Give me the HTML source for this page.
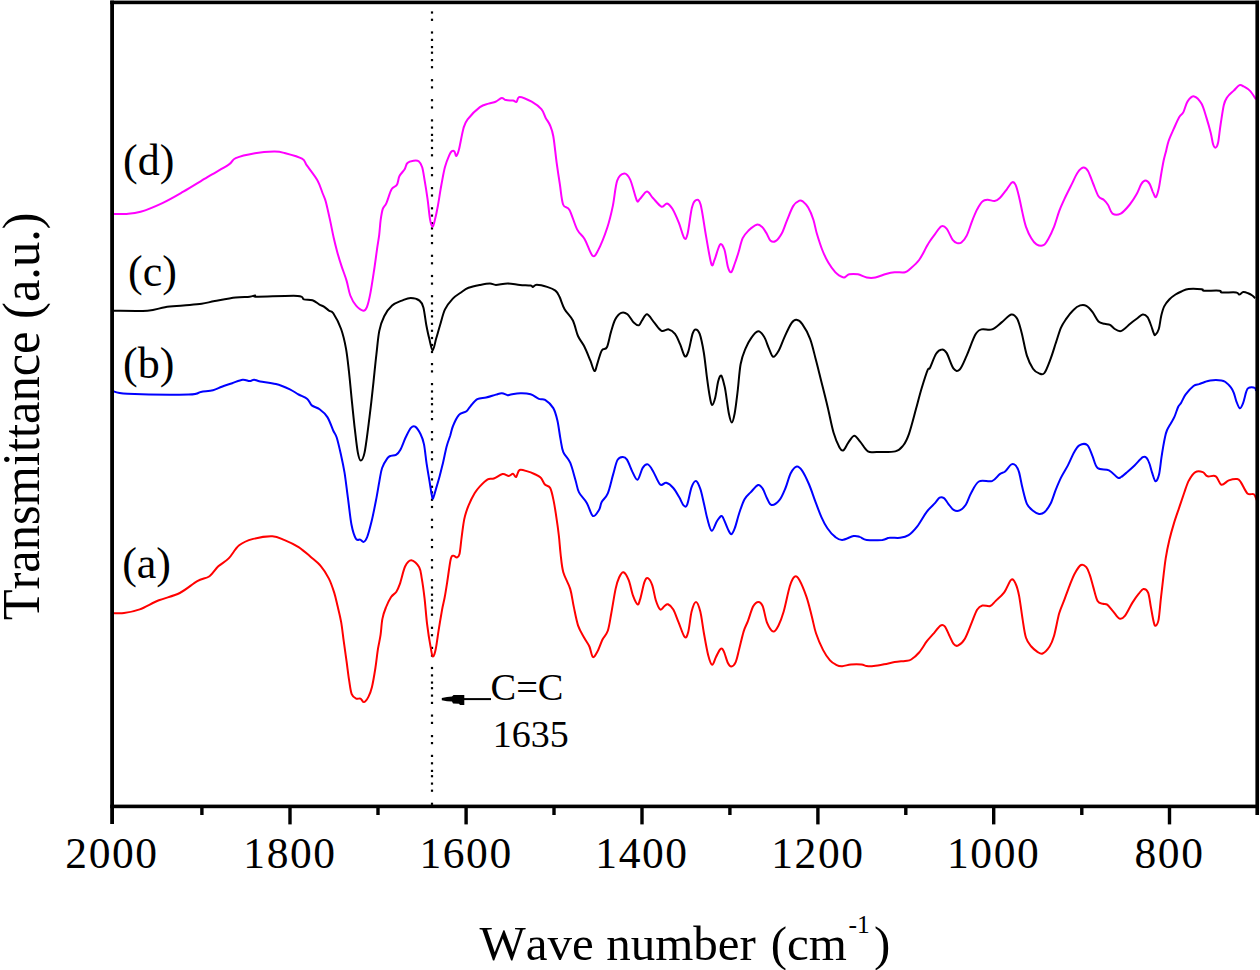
<!DOCTYPE html>
<html><head><meta charset="utf-8"><style>
html,body{margin:0;padding:0;background:#fff;}
body{width:1260px;height:970px;overflow:hidden;}
svg{display:block;}
text{font-family:'Liberation Serif',serif;fill:#000;font-kerning:none;}
</style></head><body>
<svg width="1260" height="970" viewBox="0 0 1260 970">
<rect width="1260" height="970" fill="#fff"/>
<g fill="#000"><rect x="430.9" y="11.4" width="2.2" height="2.2"/><rect x="430.9" y="18.7" width="2.2" height="2.2"/><rect x="430.9" y="31.4" width="2.2" height="2.2"/><rect x="430.9" y="38.8" width="2.2" height="2.2"/><rect x="430.9" y="46.0" width="2.2" height="2.2"/><rect x="430.9" y="51.6" width="2.2" height="2.2"/><rect x="430.9" y="59.0" width="2.2" height="2.2"/><rect x="430.9" y="66.1" width="2.2" height="2.2"/><rect x="430.9" y="79.1" width="2.2" height="2.2"/><rect x="430.9" y="86.3" width="2.2" height="2.2"/><rect x="430.9" y="99.1" width="2.2" height="2.2"/><rect x="430.9" y="106.4" width="2.2" height="2.2"/><rect x="430.9" y="119.3" width="2.2" height="2.2"/><rect x="430.9" y="126.5" width="2.2" height="2.2"/><rect x="430.9" y="133.8" width="2.2" height="2.2"/><rect x="430.9" y="139.4" width="2.2" height="2.2"/><rect x="430.9" y="146.9" width="2.2" height="2.2"/><rect x="430.9" y="154.2" width="2.2" height="2.2"/><rect x="430.9" y="166.9" width="2.2" height="2.2"/><rect x="430.9" y="174.1" width="2.2" height="2.2"/><rect x="430.9" y="187.0" width="2.2" height="2.2"/><rect x="430.9" y="194.4" width="2.2" height="2.2"/><rect x="430.9" y="207.2" width="2.2" height="2.2"/><rect x="430.9" y="214.5" width="2.2" height="2.2"/><rect x="430.9" y="222.1" width="2.2" height="2.2"/><rect x="430.9" y="227.3" width="2.2" height="2.2"/><rect x="430.9" y="234.6" width="2.2" height="2.2"/><rect x="430.9" y="242.0" width="2.2" height="2.2"/><rect x="430.9" y="254.7" width="2.2" height="2.2"/><rect x="430.9" y="262.2" width="2.2" height="2.2"/><rect x="430.9" y="274.9" width="2.2" height="2.2"/><rect x="430.9" y="282.5" width="2.2" height="2.2"/><rect x="430.9" y="295.1" width="2.2" height="2.2"/><rect x="430.9" y="302.3" width="2.2" height="2.2"/><rect x="430.9" y="309.9" width="2.2" height="2.2"/><rect x="430.9" y="315.3" width="2.2" height="2.2"/><rect x="430.9" y="322.7" width="2.2" height="2.2"/><rect x="430.9" y="329.7" width="2.2" height="2.2"/><rect x="430.9" y="336.9" width="2.2" height="2.2"/><rect x="430.9" y="343.9" width="2.2" height="2.2"/><rect x="430.9" y="350.9" width="2.2" height="2.2"/><rect x="430.9" y="363.0" width="2.2" height="2.2"/><rect x="430.9" y="370.3" width="2.2" height="2.2"/><rect x="430.9" y="383.0" width="2.2" height="2.2"/><rect x="430.9" y="390.4" width="2.2" height="2.2"/><rect x="430.9" y="397.6" width="2.2" height="2.2"/><rect x="430.9" y="403.1" width="2.2" height="2.2"/><rect x="430.9" y="410.5" width="2.2" height="2.2"/><rect x="430.9" y="418.0" width="2.2" height="2.2"/><rect x="430.9" y="431.0" width="2.2" height="2.2"/><rect x="430.9" y="438.3" width="2.2" height="2.2"/><rect x="430.9" y="451.1" width="2.2" height="2.2"/><rect x="430.9" y="458.2" width="2.2" height="2.2"/><rect x="430.9" y="470.9" width="2.2" height="2.2"/><rect x="430.9" y="478.3" width="2.2" height="2.2"/><rect x="430.9" y="485.7" width="2.2" height="2.2"/><rect x="430.9" y="491.3" width="2.2" height="2.2"/><rect x="430.9" y="498.7" width="2.2" height="2.2"/><rect x="430.9" y="505.9" width="2.2" height="2.2"/><rect x="430.9" y="518.7" width="2.2" height="2.2"/><rect x="430.9" y="526.1" width="2.2" height="2.2"/><rect x="430.9" y="538.8" width="2.2" height="2.2"/><rect x="430.9" y="546.0" width="2.2" height="2.2"/><rect x="430.9" y="559.0" width="2.2" height="2.2"/><rect x="430.9" y="566.4" width="2.2" height="2.2"/><rect x="430.9" y="579.1" width="2.2" height="2.2"/><rect x="430.9" y="586.4" width="2.2" height="2.2"/><rect x="430.9" y="593.6" width="2.2" height="2.2"/><rect x="430.9" y="599.4" width="2.2" height="2.2"/><rect x="430.9" y="606.5" width="2.2" height="2.2"/><rect x="430.9" y="613.6" width="2.2" height="2.2"/><rect x="430.9" y="626.7" width="2.2" height="2.2"/><rect x="430.9" y="634.1" width="2.2" height="2.2"/><rect x="430.9" y="646.8" width="2.2" height="2.2"/><rect x="430.9" y="654.5" width="2.2" height="2.2"/><rect x="430.9" y="666.9" width="2.2" height="2.2"/><rect x="430.9" y="674.3" width="2.2" height="2.2"/><rect x="430.9" y="681.5" width="2.2" height="2.2"/><rect x="430.9" y="687.1" width="2.2" height="2.2"/><rect x="430.9" y="694.5" width="2.2" height="2.2"/><rect x="430.9" y="701.8" width="2.2" height="2.2"/><rect x="430.9" y="714.5" width="2.2" height="2.2"/><rect x="430.9" y="721.8" width="2.2" height="2.2"/><rect x="430.9" y="735.0" width="2.2" height="2.2"/><rect x="430.9" y="742.0" width="2.2" height="2.2"/><rect x="430.9" y="754.8" width="2.2" height="2.2"/><rect x="430.9" y="762.2" width="2.2" height="2.2"/><rect x="430.9" y="769.8" width="2.2" height="2.2"/><rect x="430.9" y="775.1" width="2.2" height="2.2"/><rect x="430.9" y="782.5" width="2.2" height="2.2"/><rect x="430.9" y="789.6" width="2.2" height="2.2"/><rect x="430.9" y="802.7" width="2.2" height="2.2"/></g>
<path d="M112.6,213.9 C114.9,213.9 121.9,214.2 126.6,213.9 C131.3,213.6 134.6,213.6 140.6,211.8 C146.6,210.0 155.3,206.4 162.4,203.1 C169.5,199.8 175.7,196.1 183.3,191.7 C190.9,187.3 200.2,181.4 207.8,176.9 C215.4,172.4 224.0,167.8 228.7,164.7 C233.3,161.6 231.3,160.1 235.7,158.2 C240.1,156.3 248.5,154.4 254.9,153.3 C261.3,152.2 269.2,151.7 274.1,151.6 C279.1,151.5 280.0,151.8 284.6,153.0 C289.2,154.2 298.3,156.5 302.0,158.6 C305.7,160.7 304.4,162.0 307.0,165.6 C309.6,169.2 314.9,175.8 317.5,180.4 C320.1,185.1 321.3,189.9 322.7,193.5 C324.1,197.1 324.6,197.2 325.8,201.7 C327.0,206.2 328.8,214.4 330.1,220.4 C331.4,226.4 332.5,232.5 333.7,237.8 C334.9,243.1 336.0,247.4 337.3,252.2 C338.6,257.0 340.1,261.8 341.7,266.6 C343.3,271.4 345.3,276.3 346.7,281.1 C348.1,285.9 348.7,291.4 350.3,295.5 C351.9,299.6 353.9,303.1 356.1,305.6 C358.3,308.1 361.5,310.4 363.3,310.7 C365.1,310.9 365.7,310.1 366.9,307.1 C368.1,304.1 369.3,298.9 370.5,292.6 C371.7,286.3 373.1,276.7 374.2,269.5 C375.3,262.3 376.2,255.1 377.0,249.3 C377.8,243.5 378.6,239.7 379.2,234.9 C379.8,230.1 380.0,224.7 380.6,220.4 C381.2,216.1 381.8,211.8 382.8,208.9 C383.8,206.0 384.9,206.4 386.4,203.1 C387.9,199.8 389.9,192.1 391.7,189.1 C393.4,186.1 395.6,187.0 396.9,184.8 C398.2,182.6 398.2,178.6 399.5,176.0 C400.8,173.4 403.5,171.2 404.8,169.0 C406.1,166.8 405.9,164.4 407.4,163.0 C408.8,161.6 411.6,161.0 413.5,160.7 C415.4,160.4 417.2,160.1 418.7,161.2 C420.1,162.3 421.2,164.0 422.2,167.3 C423.2,170.7 423.9,176.1 424.8,181.3 C425.7,186.5 426.6,192.3 427.5,198.7 C428.4,205.1 429.3,215.1 430.1,219.7 C430.9,224.3 431.7,226.2 432.4,226.5 C433.1,226.8 433.6,224.9 434.5,221.4 C435.4,217.9 436.8,211.8 437.9,205.7 C439.0,199.6 440.2,191.2 441.4,184.8 C442.6,178.4 443.6,172.2 444.9,167.3 C446.2,162.4 448.1,157.8 449.3,155.1 C450.5,152.4 451.0,151.8 451.9,151.2 C452.8,150.6 453.8,150.8 454.5,151.6 C455.2,152.4 455.6,156.3 456.3,156.0 C457.0,155.7 457.7,154.3 458.9,149.8 C460.1,145.3 461.9,134.0 463.3,128.9 C464.8,123.8 464.8,122.9 467.6,119.3 C470.4,115.7 476.4,109.7 479.9,107.1 C483.4,104.5 486.0,104.5 488.6,103.6 C491.2,102.7 493.4,102.7 495.6,101.8 C497.8,100.9 500.0,98.3 501.7,98.0 C503.4,97.7 504.1,99.7 506.0,100.1 C507.9,100.5 511.2,100.3 513.0,100.6 C514.8,100.9 515.4,102.4 516.5,101.8 C517.6,101.2 517.2,96.9 519.7,96.9 C522.2,96.9 528.1,99.7 531.7,101.7 C535.3,103.8 539.1,106.5 541.4,109.2 C543.7,111.9 544.2,115.2 545.7,117.9 C547.2,120.6 548.8,122.4 550.1,125.5 C551.4,128.6 552.2,130.2 553.3,136.3 C554.4,142.4 555.5,154.4 556.6,162.3 C557.7,170.2 558.7,176.9 559.8,183.9 C560.9,190.9 561.5,200.2 563.1,204.5 C564.7,208.8 567.2,205.8 569.5,209.9 C571.8,214.1 574.6,224.5 577.1,229.4 C579.6,234.3 582.2,234.9 584.7,239.2 C587.2,243.5 590.1,253.4 592.3,255.4 C594.5,257.4 595.2,255.8 597.7,251.1 C600.2,246.4 604.9,234.8 607.4,227.2 C609.9,219.6 611.3,213.3 612.9,205.6 C614.5,197.8 615.3,186.0 617.2,180.7 C619.1,175.3 622.1,173.7 624.3,173.5 C626.5,173.3 628.1,175.2 630.2,179.6 C632.3,184.0 635.1,196.9 636.7,200.2 C638.3,203.4 638.2,200.5 639.9,199.1 C641.6,197.7 644.7,191.7 646.9,191.5 C649.1,191.3 650.4,195.5 652.9,198.0 C655.4,200.5 659.2,205.8 661.6,206.7 C664.0,207.6 665.2,203.1 667.0,203.4 C668.8,203.8 670.4,205.6 672.4,208.8 C674.4,212.1 676.9,218.0 678.9,222.9 C680.9,227.8 682.8,236.3 684.3,238.1 C685.8,239.9 686.3,238.8 687.6,233.7 C688.9,228.6 690.5,213.4 691.9,207.8 C693.3,202.2 694.3,200.8 695.8,200.2 C697.2,199.6 698.9,198.6 700.6,204.5 C702.3,210.4 704.2,226.0 706.0,235.9 C707.8,245.8 710.0,260.1 711.4,264.1 C712.8,268.1 713.2,262.9 714.6,259.7 C716.0,256.4 718.4,246.3 720.0,244.6 C721.6,242.9 723.1,245.8 724.4,249.5 C725.7,253.2 726.8,263.2 727.9,267.0 C729.0,270.8 730.1,272.8 731.3,272.2 C732.4,271.6 733.6,266.7 734.8,263.5 C736.0,260.3 737.0,257.2 738.3,253.0 C739.6,248.8 741.0,242.0 742.7,238.2 C744.5,234.4 746.5,232.6 748.8,230.3 C751.1,228.1 754.5,225.3 756.7,224.7 C758.9,224.1 760.3,225.4 761.9,226.8 C763.5,228.2 764.8,230.6 766.3,232.9 C767.8,235.2 769.0,239.5 770.6,240.8 C772.2,242.1 774.0,242.1 775.9,240.8 C777.8,239.5 780.1,236.4 782.0,232.9 C783.9,229.4 785.3,224.3 787.2,219.8 C789.1,215.3 791.3,209.1 793.3,205.9 C795.3,202.7 797.8,201.3 799.4,200.6 C801.0,199.9 801.4,200.3 802.9,201.5 C804.4,202.7 806.5,204.5 808.2,207.6 C810.0,210.7 812.0,215.4 813.4,219.8 C814.8,224.2 815.4,228.9 816.9,233.8 C818.4,238.8 820.2,244.7 822.1,249.5 C824.0,254.3 826.1,258.8 828.3,262.6 C830.5,266.4 833.3,270.0 835.2,272.2 C837.1,274.4 838.1,274.8 839.6,275.7 C841.1,276.6 842.4,277.7 844.0,277.5 C845.6,277.3 846.9,274.8 849.2,274.3 C851.5,273.8 855.0,273.8 857.9,274.3 C860.8,274.8 863.8,277.0 866.7,277.5 C869.6,278.0 872.2,278.1 875.4,277.5 C878.6,276.9 882.7,274.9 885.9,274.0 C889.1,273.1 891.4,272.5 894.6,272.2 C897.8,271.9 902.5,272.8 905.1,272.2 C907.7,271.6 908.0,270.7 910.3,268.7 C912.6,266.7 916.5,263.5 919.1,260.0 C921.7,256.5 924.3,250.9 926.0,247.8 C927.7,244.8 928.0,244.0 929.5,241.7 C931.0,239.4 933.2,236.4 935.2,233.8 C937.2,231.2 939.4,227.2 941.3,226.3 C943.2,225.4 944.7,226.3 946.6,228.6 C948.5,230.9 951.0,237.5 952.7,239.9 C954.5,242.3 955.7,242.7 957.1,243.1 C958.5,243.5 959.8,243.8 961.4,242.5 C963.0,241.2 965.0,239.1 966.7,235.6 C968.5,232.1 970.2,226.0 971.9,221.6 C973.6,217.2 975.4,212.8 977.1,209.4 C978.9,206.1 980.6,203.1 982.4,201.5 C984.1,199.9 985.6,199.9 987.6,199.8 C989.6,199.7 992.6,201.3 994.6,201.0 C996.6,200.7 997.8,199.9 999.8,198.0 C1001.8,196.1 1004.8,191.9 1006.8,189.3 C1008.8,186.7 1010.6,183.0 1012.1,182.3 C1013.6,181.6 1014.4,182.4 1015.6,184.9 C1016.8,187.4 1018.0,192.4 1019.1,197.1 C1020.2,201.8 1021.4,207.9 1022.5,212.9 C1023.6,217.9 1024.5,222.6 1026.0,226.8 C1027.5,231.0 1029.5,235.3 1031.3,238.2 C1033.0,241.1 1034.5,243.1 1036.5,244.3 C1038.5,245.5 1041.5,246.2 1043.5,245.2 C1045.5,244.2 1047.0,241.3 1048.7,238.2 C1050.5,235.1 1052.2,231.3 1054.0,226.8 C1055.8,222.3 1057.5,215.8 1059.2,211.1 C1061.0,206.4 1062.5,203.3 1064.5,198.9 C1066.5,194.5 1069.2,189.3 1071.4,184.9 C1073.6,180.5 1075.5,175.6 1077.5,172.7 C1079.5,169.8 1081.5,167.8 1083.3,167.5 C1085.0,167.2 1086.3,168.2 1088.0,171.0 C1089.7,173.8 1091.5,179.8 1093.3,184.0 C1095.0,188.2 1096.8,193.7 1098.5,196.3 C1100.2,198.9 1102.1,198.4 1103.7,199.8 C1105.3,201.2 1106.6,202.7 1108.1,205.0 C1109.6,207.3 1110.4,212.2 1112.5,213.6 C1114.6,215.0 1117.8,215.1 1120.7,213.6 C1123.6,212.1 1127.2,207.7 1129.8,204.5 C1132.4,201.3 1134.5,198.0 1136.4,194.6 C1138.3,191.2 1139.9,186.2 1141.4,183.9 C1142.9,181.6 1144.1,180.6 1145.5,180.6 C1146.9,180.6 1148.4,182.0 1149.6,183.9 C1150.8,185.8 1151.9,189.9 1152.9,192.1 C1154.0,194.3 1154.9,197.6 1155.9,197.1 C1156.9,196.6 1157.8,192.7 1158.7,188.8 C1159.6,185.0 1160.4,178.7 1161.2,174.0 C1162.0,169.3 1162.8,164.7 1163.6,160.8 C1164.4,157.0 1165.3,154.2 1166.1,150.9 C1166.9,147.6 1167.4,144.6 1168.6,141.0 C1169.8,137.4 1171.7,133.4 1173.5,129.4 C1175.3,125.4 1177.6,119.9 1179.3,117.0 C1181.0,114.1 1182.0,114.7 1183.4,112.1 C1184.8,109.5 1185.8,104.0 1187.6,101.4 C1189.4,98.8 1191.9,96.0 1194.2,96.4 C1196.5,96.8 1199.5,100.2 1201.6,103.8 C1203.6,107.4 1205.0,113.1 1206.5,117.9 C1208.0,122.7 1209.6,128.3 1210.7,132.7 C1211.8,137.1 1212.3,141.8 1213.1,144.3 C1213.9,146.8 1214.8,147.9 1215.6,147.6 C1216.4,147.3 1217.3,146.4 1218.1,142.6 C1218.9,138.8 1219.6,130.8 1220.6,124.5 C1221.6,118.2 1222.8,109.2 1223.9,104.7 C1225.0,100.2 1225.6,99.6 1227.2,97.2 C1228.8,94.8 1231.8,92.6 1233.8,90.6 C1235.8,88.6 1237.8,85.9 1239.5,85.2 C1241.2,84.5 1241.9,85.5 1243.7,86.5 C1245.5,87.5 1248.2,88.9 1250.3,91.1 C1252.3,93.2 1255.0,98.0 1256.0,99.4" fill="none" stroke="#ff00ff" stroke-width="2" stroke-linejoin="round"/>
<path d="M113.5,310.7 C119.2,310.7 138.9,311.3 147.5,310.7 C156.1,310.1 159.0,308.1 165.0,307.2 C171.0,306.3 177.2,306.1 183.3,305.5 C189.4,304.9 196.4,304.4 201.7,303.7 C206.9,303.0 209.1,302.1 214.8,301.1 C220.5,300.1 229.9,298.3 235.7,297.6 C241.5,296.9 246.5,297.1 249.7,296.7 C252.9,296.3 253.6,295.5 254.9,295.5 C256.2,295.5 250.4,296.6 257.5,296.7 C264.6,296.8 290.0,295.4 297.7,295.9 C305.4,296.3 301.3,298.7 303.8,299.4 C306.3,300.1 309.9,299.3 312.5,300.2 C315.1,301.1 317.7,303.6 319.5,304.6 C321.3,305.6 321.9,305.4 323.5,306.4 C325.1,307.4 327.5,309.5 329.1,310.7 C330.7,311.9 331.3,310.2 333.3,313.3 C335.3,316.4 339.0,323.1 341.1,329.0 C343.2,334.9 344.7,341.4 346.0,348.6 C347.3,355.8 348.0,363.2 349.0,372.0 C350.0,380.8 350.9,391.9 351.9,401.4 C352.9,410.9 353.8,420.4 354.8,428.9 C355.8,437.4 356.8,447.1 357.8,452.4 C358.8,457.7 359.6,460.6 360.7,460.6 C361.8,460.6 363.1,459.6 364.6,452.4 C366.1,445.1 368.0,428.9 369.5,417.1 C371.0,405.4 372.4,392.3 373.5,381.9 C374.6,371.4 375.4,362.9 376.4,354.4 C377.4,345.9 378.0,337.3 379.3,330.9 C380.6,324.5 382.1,320.4 384.2,316.2 C386.3,312.0 389.2,308.1 392.1,305.5 C395.1,302.9 398.8,301.9 401.9,300.6 C405.0,299.4 407.8,298.0 410.7,298.0 C413.6,298.0 417.4,299.0 419.5,300.6 C421.6,302.2 422.3,303.3 423.4,307.4 C424.5,311.5 425.3,319.8 426.3,325.0 C427.3,330.2 428.2,334.6 429.3,338.8 C430.4,343.1 431.5,350.5 432.6,350.5 C433.7,350.5 434.9,343.1 436.1,338.8 C437.4,334.6 438.6,329.9 440.1,325.0 C441.6,320.1 442.9,313.8 445.0,309.4 C447.1,305.0 450.2,301.4 452.8,298.6 C455.4,295.8 458.0,294.5 460.6,292.7 C463.2,290.9 465.2,289.1 468.5,287.8 C471.8,286.5 476.6,285.6 480.2,284.9 C483.8,284.2 487.4,283.5 490.0,283.5 C492.6,283.5 493.0,284.9 495.9,284.9 C498.8,284.9 503.6,283.5 507.6,283.5 C511.6,283.5 516.2,284.6 520.0,284.9 C523.8,285.2 528.5,285.2 530.6,285.5 C532.7,285.8 531.7,287.0 532.7,286.9 C533.7,286.8 534.4,284.8 536.8,284.8 C539.2,284.8 544.0,285.9 547.1,286.9 C550.2,287.9 553.3,289.0 555.4,290.6 C557.5,292.2 558.0,293.7 559.5,296.8 C561.0,299.9 562.4,305.2 564.6,309.2 C566.8,313.1 570.7,316.0 572.9,320.5 C575.1,325.0 576.1,331.7 578.0,336.0 C579.9,340.3 582.1,342.2 584.2,346.3 C586.3,350.4 588.7,356.6 590.4,360.7 C592.1,364.8 593.3,370.6 594.5,371.0 C595.7,371.4 596.4,366.2 597.6,362.8 C598.8,359.4 600.2,353.0 601.8,350.4 C603.3,347.8 605.4,350.4 606.9,347.3 C608.4,344.2 609.6,336.5 611.0,331.9 C612.4,327.3 613.5,322.7 615.2,319.5 C616.9,316.3 619.2,313.8 621.3,312.9 C623.3,312.0 625.4,312.7 627.5,314.3 C629.6,315.9 631.8,320.8 633.7,322.6 C635.6,324.4 637.5,325.7 638.9,325.3 C640.3,324.9 640.6,322.3 642.0,320.5 C643.4,318.7 645.1,313.9 647.1,314.3 C649.1,314.7 651.9,319.9 654.3,322.6 C656.7,325.4 659.1,329.7 661.5,330.8 C663.9,331.9 666.5,328.9 668.8,329.4 C671.0,329.9 673.1,331.4 675.0,333.9 C676.9,336.4 678.5,340.5 680.1,344.2 C681.7,347.9 683.4,355.0 684.8,356.2 C686.2,357.4 687.1,355.1 688.4,351.4 C689.7,347.7 691.3,337.6 692.5,333.9 C693.7,330.2 694.4,329.4 695.6,329.4 C696.8,329.4 698.3,330.0 699.7,333.9 C701.1,337.8 702.6,345.3 703.8,352.5 C705.0,359.7 705.9,369.6 706.9,377.2 C707.9,384.8 709.1,393.2 710.0,397.8 C710.9,402.4 711.2,405.0 712.1,405.0 C713.0,405.0 714.2,401.8 715.2,397.8 C716.2,393.9 717.2,385.0 718.2,381.3 C719.2,377.6 720.3,374.9 721.3,375.6 C722.3,376.3 723.6,382.5 724.4,385.5 C725.2,388.5 725.2,389.0 725.9,393.6 C726.6,398.2 727.8,408.4 728.8,413.2 C729.8,418.0 730.8,422.6 731.8,422.6 C732.8,422.6 733.7,418.4 734.7,413.2 C735.7,408.0 736.6,399.9 737.6,391.7 C738.6,383.5 739.3,371.4 740.6,364.2 C741.9,357.0 743.7,353.0 745.5,348.6 C747.3,344.2 749.2,340.7 751.3,337.8 C753.4,334.9 756.1,331.5 758.2,331.3 C760.3,331.1 762.3,333.9 764.1,336.8 C765.9,339.7 767.5,345.3 769.0,348.6 C770.5,351.9 771.7,356.5 773.3,356.8 C774.9,357.1 776.9,353.8 778.8,350.5 C780.7,347.2 782.5,341.4 784.6,336.8 C786.7,332.2 789.5,325.9 791.5,323.1 C793.5,320.3 794.6,319.6 796.4,319.8 C798.2,320.0 800.0,320.9 802.3,324.1 C804.6,327.3 807.8,332.8 810.1,338.8 C812.4,344.8 814.0,352.8 816.0,360.3 C818.0,367.8 819.9,376.0 821.9,383.8 C823.9,391.6 825.8,399.1 827.7,407.3 C829.7,415.5 831.6,426.1 833.6,432.8 C835.6,439.5 837.9,444.6 839.5,447.5 C841.1,450.4 841.9,451.2 843.4,450.4 C844.9,449.6 846.5,445.1 848.3,442.6 C850.1,440.2 852.2,435.9 854.2,435.7 C856.2,435.5 857.8,439.0 860.1,441.6 C862.4,444.2 865.1,449.7 867.9,451.4 C870.7,453.1 872.1,452.0 876.7,452.0 C881.3,452.0 890.9,452.5 895.3,451.4 C899.7,450.3 900.9,448.4 903.2,445.5 C905.5,442.6 906.9,439.8 909.0,433.8 C911.1,427.8 913.8,417.0 915.9,409.3 C918.0,401.6 919.8,394.2 921.8,387.7 C923.8,381.2 926.2,373.4 927.6,370.1 C929.0,366.8 928.6,370.5 930.0,367.8 C931.4,365.1 934.1,356.9 936.1,353.8 C938.1,350.7 940.1,349.5 941.9,349.4 C943.6,349.2 944.6,349.7 946.6,352.9 C948.6,356.1 951.4,365.9 953.6,368.7 C955.8,371.5 957.5,371.7 959.7,369.5 C961.9,367.3 964.1,361.4 966.7,355.6 C969.3,349.8 972.9,339.0 975.4,334.6 C977.9,330.2 978.7,330.3 981.5,329.4 C984.3,328.5 988.6,330.6 992.0,329.4 C995.4,328.2 998.4,324.9 1001.6,322.4 C1004.8,319.9 1008.6,315.1 1011.2,314.5 C1013.8,313.9 1015.5,315.8 1017.3,318.9 C1019.0,322.0 1020.1,326.8 1021.7,332.9 C1023.3,339.0 1025.0,349.6 1026.9,355.6 C1028.8,361.6 1031.0,365.7 1033.0,368.7 C1035.0,371.7 1037.2,372.7 1039.1,373.4 C1041.0,374.1 1042.5,375.4 1044.4,373.0 C1046.3,370.6 1048.6,364.1 1050.5,359.1 C1052.4,354.2 1054.0,348.6 1055.7,343.3 C1057.5,338.1 1059.2,331.7 1061.0,327.6 C1062.8,323.5 1064.2,321.8 1066.2,318.9 C1068.2,316.0 1070.9,312.4 1073.2,310.2 C1075.5,307.9 1078.0,306.1 1080.2,305.4 C1082.4,304.7 1084.3,304.7 1086.3,305.8 C1088.3,306.9 1090.4,309.3 1092.4,311.9 C1094.4,314.5 1096.5,319.5 1098.5,321.5 C1100.5,323.5 1102.7,323.2 1104.6,323.8 C1106.5,324.4 1108.3,324.0 1110.0,324.9 C1111.7,325.8 1113.1,327.9 1114.8,329.0 C1116.5,330.1 1118.5,331.2 1120.1,331.2 C1121.7,331.2 1122.6,330.2 1124.3,329.0 C1126.0,327.8 1128.0,325.5 1130.2,323.7 C1132.4,321.9 1135.3,319.8 1137.4,318.3 C1139.5,316.8 1141.0,314.7 1142.7,314.5 C1144.4,314.3 1146.1,315.3 1147.5,317.1 C1148.9,318.9 1150.1,322.9 1151.1,325.5 C1152.1,328.1 1152.8,331.0 1153.5,332.6 C1154.2,334.2 1154.3,335.6 1155.2,335.0 C1156.1,334.4 1157.8,332.2 1158.8,329.0 C1159.8,325.8 1160.3,319.8 1161.2,316.0 C1162.1,312.2 1162.8,309.2 1164.2,306.4 C1165.6,303.6 1167.6,301.3 1169.5,299.3 C1171.4,297.3 1173.5,295.8 1175.5,294.5 C1177.5,293.2 1179.2,292.4 1181.4,291.5 C1183.6,290.6 1185.2,289.3 1188.6,288.9 C1192.0,288.5 1199.1,288.9 1201.7,289.2 C1204.3,289.5 1201.0,290.4 1204.0,290.7 C1207.0,290.9 1216.5,290.4 1219.5,290.7 C1222.5,291.0 1219.1,292.1 1221.9,292.4 C1224.7,292.7 1233.3,292.0 1236.2,292.4 C1239.1,292.8 1238.0,294.6 1239.2,294.5 C1240.4,294.4 1241.8,292.3 1243.3,292.1 C1244.8,291.9 1246.6,292.7 1248.1,293.3 C1249.6,293.9 1251.1,294.7 1252.3,295.5 C1253.5,296.3 1254.7,297.7 1255.2,298.1" fill="none" stroke="#000000" stroke-width="2" stroke-linejoin="round"/>
<path d="M112.6,391.0 C115.1,391.4 114.8,393.1 127.5,393.7 C140.2,394.3 176.4,394.8 188.6,394.5 C200.8,394.2 196.7,392.6 200.8,391.9 C204.9,391.2 209.5,391.1 213.0,390.2 C216.5,389.3 218.6,387.9 221.8,386.7 C225.0,385.5 228.7,384.4 232.2,383.2 C235.7,382.0 239.8,380.0 242.7,379.7 C245.6,379.4 247.8,381.1 249.7,381.1 C251.6,381.1 252.3,379.6 254.1,379.7 C255.8,379.8 256.6,380.7 260.2,381.4 C263.8,382.1 270.9,382.7 275.9,384.0 C280.8,385.3 286.1,387.6 289.9,389.3 C293.7,391.1 295.7,392.9 298.6,394.5 C301.5,396.1 305.1,397.1 307.3,398.9 C309.5,400.7 309.8,403.7 311.8,405.4 C313.9,407.1 317.0,407.4 319.6,409.3 C322.2,411.2 325.1,413.5 327.4,417.1 C329.7,420.7 331.8,427.4 333.3,430.8 C334.9,434.2 335.4,433.5 336.7,437.5 C338.0,441.5 339.7,449.1 341.0,454.9 C342.3,460.7 343.3,465.1 344.5,472.4 C345.7,479.7 346.8,489.9 348.0,498.6 C349.2,507.3 350.2,518.1 351.5,524.8 C352.8,531.5 354.4,536.2 355.9,538.7 C357.3,541.2 358.9,539.1 360.2,539.6 C361.5,540.1 362.5,542.3 363.7,541.9 C364.9,541.5 365.9,540.4 367.2,537.0 C368.5,533.6 370.1,527.4 371.6,521.3 C373.1,515.2 374.7,507.0 376.0,500.3 C377.3,493.6 378.4,486.5 379.4,481.1 C380.4,475.7 380.8,471.8 382.1,468.0 C383.4,464.2 385.9,460.4 387.3,458.4 C388.8,456.4 389.4,456.4 390.8,455.8 C392.2,455.2 394.4,455.9 396.0,454.9 C397.6,453.9 398.8,452.6 400.4,449.7 C402.0,446.8 403.9,441.1 405.6,437.5 C407.4,433.9 409.3,429.7 410.9,427.9 C412.5,426.1 413.6,425.6 415.2,426.6 C416.8,427.6 419.0,431.0 420.5,434.0 C422.0,437.0 423.0,439.4 424.0,444.4 C425.0,449.3 425.7,457.9 426.6,463.7 C427.5,469.5 428.3,474.2 429.2,479.4 C430.1,484.6 431.1,492.0 431.8,495.1 C432.5,498.2 432.4,499.4 433.1,498.2 C433.8,497.0 435.1,491.8 436.2,488.1 C437.3,484.4 438.5,480.3 439.7,475.9 C440.9,471.5 442.0,466.8 443.2,461.9 C444.4,456.9 445.5,450.6 446.7,446.2 C447.9,441.8 449.1,439.1 450.2,435.7 C451.2,432.3 451.6,429.4 453.0,426.0 C454.4,422.6 456.4,417.7 458.7,415.2 C460.9,412.7 464.6,412.7 466.5,411.2 C468.4,409.7 468.6,408.3 470.4,406.3 C472.2,404.3 474.7,400.6 477.3,399.1 C479.9,397.6 483.0,398.2 486.1,397.5 C489.2,396.8 493.3,395.3 495.9,394.6 C498.5,393.9 499.9,393.1 501.8,393.2 C503.8,393.3 506.2,394.9 507.6,395.2 C509.0,395.4 507.9,395.0 510.0,394.7 C512.1,394.4 516.9,393.4 520.3,393.3 C523.7,393.2 527.5,393.4 530.6,394.3 C533.7,395.2 536.5,398.0 538.9,398.9 C541.3,399.8 542.7,398.4 545.1,399.9 C547.5,401.4 551.2,404.7 553.3,408.1 C555.3,411.5 556.2,415.3 557.4,420.5 C558.6,425.7 559.5,433.8 560.5,439.1 C561.5,444.4 561.7,448.3 563.3,452.2 C564.9,456.1 568.2,458.0 570.2,462.7 C572.2,467.4 574.0,475.2 575.5,480.2 C577.0,485.1 577.1,488.6 579.0,492.4 C580.9,496.2 584.5,499.0 586.8,502.9 C589.1,506.8 590.8,514.9 592.9,516.0 C595.0,517.1 597.6,512.1 599.1,509.8 C600.6,507.5 600.2,504.8 601.7,502.0 C603.2,499.2 605.9,497.8 607.8,493.3 C609.7,488.8 611.4,480.4 613.0,474.9 C614.6,469.4 615.8,463.1 617.4,460.1 C619.0,457.1 621.0,457.0 622.6,456.9 C624.2,456.8 625.4,457.2 627.0,459.6 C628.6,462.0 630.5,468.0 632.2,471.4 C634.0,474.8 635.8,480.4 637.5,479.8 C639.2,479.2 641.0,470.5 642.7,467.9 C644.4,465.3 646.1,463.8 647.9,464.4 C649.6,465.0 651.2,468.0 653.2,471.4 C655.2,474.8 658.0,482.6 660.2,484.5 C662.4,486.4 664.1,482.2 666.3,482.8 C668.5,483.4 671.1,485.5 673.3,488.0 C675.5,490.5 677.7,494.7 679.4,497.6 C681.1,500.5 682.4,504.3 683.7,505.5 C685.0,506.7 685.9,507.7 687.2,504.6 C688.5,501.5 690.1,491.0 691.6,487.1 C693.1,483.2 694.5,480.7 696.0,481.0 C697.5,481.3 699.0,485.2 700.3,488.9 C701.6,492.5 702.6,497.9 703.8,502.9 C705.0,507.8 706.0,514.0 707.3,518.6 C708.6,523.2 710.1,530.4 711.7,530.8 C713.3,531.2 715.3,523.7 716.9,521.2 C718.5,518.7 720.2,516.4 721.3,516.0 C722.4,515.6 722.4,516.4 723.5,518.6 C724.6,520.8 726.6,526.5 727.9,529.1 C729.2,531.7 730.1,534.4 731.3,534.3 C732.4,534.1 733.5,531.7 734.8,528.2 C736.1,524.7 737.6,518.1 739.2,513.3 C740.8,508.5 742.5,502.9 744.4,499.4 C746.3,495.9 748.3,494.8 750.6,492.4 C752.9,490.0 756.1,485.6 758.1,485.0 C760.1,484.4 761.3,486.6 762.8,488.9 C764.3,491.1 765.6,495.8 767.1,498.5 C768.6,501.2 769.5,504.7 771.5,505.0 C773.5,505.3 777.1,503.0 779.4,500.2 C781.7,497.4 783.6,492.5 785.5,488.0 C787.4,483.5 788.8,476.8 790.7,473.2 C792.6,469.6 794.9,466.9 796.8,466.5 C798.7,466.1 800.0,467.6 802.1,470.6 C804.2,473.6 806.9,479.4 809.1,484.5 C811.3,489.6 813.2,495.7 815.2,501.1 C817.2,506.5 819.3,512.3 821.3,516.8 C823.3,521.3 825.1,524.9 827.4,528.2 C829.7,531.6 832.7,535.0 835.2,536.9 C837.7,538.8 839.1,540.0 842.2,539.9 C845.3,539.8 850.7,536.5 853.6,536.0 C856.5,535.5 857.5,536.2 859.7,536.9 C861.9,537.5 862.9,539.4 866.7,539.9 C870.5,540.4 878.6,540.2 882.4,539.9 C886.2,539.5 886.5,538.1 889.4,537.8 C892.3,537.4 896.7,538.2 899.9,537.8 C903.1,537.4 905.7,537.1 908.6,535.2 C911.5,533.3 914.2,530.3 917.3,526.4 C920.3,522.5 923.9,515.5 926.9,511.6 C929.9,507.7 933.1,505.2 935.2,502.9 C937.3,500.6 938.1,498.5 939.6,497.7 C941.1,496.9 942.5,497.2 944.0,498.2 C945.5,499.2 946.7,501.9 948.3,503.8 C949.9,505.8 951.7,508.8 953.6,509.9 C955.5,511.0 957.7,511.3 959.7,510.4 C961.7,509.5 963.9,507.5 965.8,504.7 C967.7,501.9 968.8,497.2 971.0,493.3 C973.2,489.4 975.4,483.5 978.9,481.5 C982.4,479.5 988.5,482.3 992.0,481.1 C995.5,479.9 997.6,475.7 999.8,474.1 C1002.0,472.5 1003.2,473.1 1005.1,471.5 C1007.0,469.9 1009.5,465.5 1011.2,464.5 C1013.0,463.5 1014.3,464.1 1015.6,465.4 C1016.9,466.7 1018.0,468.6 1019.1,472.4 C1020.2,476.2 1021.2,482.9 1022.5,488.1 C1023.8,493.3 1025.2,500.0 1026.9,503.8 C1028.7,507.6 1031.0,509.1 1033.0,510.8 C1035.0,512.5 1037.2,513.7 1039.1,513.9 C1041.0,514.1 1042.5,513.9 1044.4,512.2 C1046.3,510.5 1048.6,507.5 1050.5,503.8 C1052.4,500.1 1054.0,494.2 1055.7,489.8 C1057.5,485.4 1059.0,481.7 1061.0,477.6 C1063.0,473.5 1065.7,469.6 1067.9,465.4 C1070.1,461.2 1072.2,455.6 1074.1,452.3 C1076.0,449.0 1077.1,446.5 1079.3,445.3 C1081.5,444.1 1085.0,443.2 1087.2,445.0 C1089.4,446.8 1090.7,452.0 1092.4,455.8 C1094.1,459.6 1094.8,465.6 1097.6,468.0 C1100.4,470.4 1105.7,468.7 1109.0,470.3 C1112.3,471.9 1115.7,476.5 1117.7,477.6 C1119.7,478.7 1119.5,477.9 1121.1,477.0 C1122.7,476.1 1125.0,474.0 1127.3,472.0 C1129.6,470.0 1132.2,467.7 1134.8,465.2 C1137.4,462.7 1140.8,458.4 1142.8,457.2 C1144.8,456.0 1145.4,456.7 1146.5,457.8 C1147.6,458.9 1148.7,461.5 1149.6,464.0 C1150.5,466.5 1151.1,469.7 1152.1,472.6 C1153.1,475.5 1154.4,480.9 1155.5,481.3 C1156.6,481.7 1157.9,479.0 1158.9,475.1 C1159.9,471.2 1160.7,462.6 1161.4,457.8 C1162.1,453.1 1162.6,450.1 1163.2,446.6 C1163.8,443.1 1164.5,439.4 1165.1,436.7 C1165.7,434.0 1166.0,432.7 1166.9,430.5 C1167.8,428.3 1169.3,426.0 1170.6,423.7 C1171.8,421.4 1173.2,419.7 1174.4,416.9 C1175.7,414.1 1177.0,409.4 1178.1,407.0 C1179.2,404.6 1180.0,404.8 1181.2,402.7 C1182.4,400.6 1183.5,397.5 1185.5,394.7 C1187.5,391.9 1191.2,387.8 1193.5,386.0 C1195.8,384.2 1197.3,384.7 1199.1,384.1 C1200.9,383.5 1202.2,382.9 1204.1,382.3 C1205.9,381.7 1207.3,380.7 1210.2,380.4 C1213.1,380.1 1218.8,380.1 1221.4,380.4 C1224.0,380.7 1224.2,381.2 1225.7,382.3 C1227.2,383.4 1229.4,385.4 1230.7,387.2 C1232.0,388.9 1232.9,390.5 1233.8,392.8 C1234.7,395.1 1235.2,398.2 1236.2,400.8 C1237.2,403.4 1238.6,407.9 1239.7,408.3 C1240.8,408.7 1241.9,406.0 1243.0,403.3 C1244.1,400.6 1245.2,394.8 1246.1,392.2 C1247.0,389.6 1247.1,388.5 1248.6,387.8 C1250.0,387.1 1253.6,387.3 1254.8,387.8 C1256.0,388.3 1255.8,390.4 1256.0,390.9" fill="none" stroke="#0000ff" stroke-width="2" stroke-linejoin="round"/>
<path d="M112.6,613.1 C114.5,613.1 119.5,613.7 124.0,613.1 C128.5,612.5 133.9,611.5 139.7,609.4 C145.5,607.3 152.2,603.0 158.9,600.3 C165.6,597.6 173.4,596.2 179.8,593.0 C186.2,589.8 192.4,583.9 197.3,581.1 C202.2,578.3 206.0,578.7 209.5,576.2 C213.0,573.7 215.1,569.3 218.3,566.3 C221.5,563.3 225.2,561.9 228.7,558.4 C232.2,554.9 235.1,548.5 239.2,545.3 C243.3,542.0 247.7,540.4 253.2,538.9 C258.7,537.4 267.2,536.0 272.4,536.2 C277.6,536.4 280.2,538.3 284.6,540.1 C289.0,541.9 294.3,544.3 298.6,547.1 C302.9,549.9 306.8,553.5 310.5,556.7 C314.2,559.9 317.9,562.6 321.0,566.3 C324.1,569.9 326.7,574.2 328.9,578.6 C331.1,583.0 332.7,587.9 334.2,592.6 C335.7,597.3 336.5,601.6 337.7,606.6 C338.9,611.6 340.2,616.5 341.2,622.4 C342.2,628.2 342.9,635.3 343.8,641.7 C344.7,648.1 345.6,654.5 346.5,660.9 C347.4,667.3 348.2,674.7 349.1,680.2 C350.0,685.8 350.5,691.1 351.7,694.2 C352.9,697.3 354.6,697.9 356.1,698.6 C357.6,699.3 359.2,698.0 360.5,698.6 C361.8,699.2 362.7,702.4 364.0,702.1 C365.3,701.8 367.1,699.4 368.4,696.9 C369.7,694.4 370.7,692.0 371.9,687.2 C373.1,682.4 374.4,674.4 375.4,668.0 C376.4,661.6 377.1,654.2 378.0,648.7 C378.9,643.2 379.9,639.7 380.6,634.7 C381.3,629.7 381.5,623.4 382.4,618.9 C383.3,614.4 384.4,611.1 385.9,607.5 C387.3,603.9 389.4,599.6 391.1,597.0 C392.9,594.4 394.9,593.9 396.4,591.7 C397.9,589.5 398.4,588.0 399.9,583.8 C401.4,579.6 403.3,570.2 405.2,566.3 C407.1,562.4 409.0,560.1 411.3,560.2 C413.6,560.4 417.4,564.1 419.2,567.2 C420.9,570.3 420.9,573.5 421.8,578.6 C422.7,583.7 423.6,590.2 424.5,597.8 C425.4,605.4 426.1,615.9 427.1,624.1 C428.1,632.3 429.6,641.5 430.6,646.9 C431.6,652.3 432.0,656.3 432.9,656.6 C433.8,656.9 434.9,653.0 435.8,648.7 C436.7,644.5 437.5,637.5 438.5,631.1 C439.5,624.7 441.0,615.7 442.0,610.1 C443.0,604.5 443.7,602.5 444.6,597.8 C445.5,593.1 446.2,588.5 447.2,582.1 C448.2,575.7 449.7,563.7 450.7,559.3 C451.7,554.9 452.4,556.1 453.4,555.8 C454.4,555.5 455.9,557.8 456.9,557.5 C457.9,557.2 458.8,556.9 459.5,554.0 C460.2,551.1 460.7,544.9 461.3,540.0 C461.9,535.1 462.7,528.8 463.3,524.8 C463.9,520.8 464.1,519.2 465.0,516.0 C465.9,512.8 466.9,509.4 468.5,505.6 C470.1,501.8 472.7,496.5 474.6,493.3 C476.5,490.1 477.7,488.7 479.9,486.4 C482.1,484.1 485.4,480.7 487.7,479.4 C490.0,478.1 491.3,479.4 493.8,478.5 C496.3,477.6 500.1,474.5 502.6,474.1 C505.1,473.7 507.0,475.9 508.7,475.9 C510.4,475.8 511.8,473.6 513.0,473.8 C514.2,474.0 515.0,477.6 516.1,477.0 C517.2,476.4 517.7,470.9 519.6,470.0 C521.5,469.1 525.0,470.7 527.5,471.4 C530.0,472.1 532.2,473.0 534.4,474.0 C536.6,475.0 538.9,475.8 540.6,477.5 C542.4,479.2 543.3,482.8 544.9,484.5 C546.5,486.2 548.7,485.2 550.2,488.0 C551.7,490.8 552.7,496.3 553.7,501.1 C554.7,505.9 555.4,511.0 556.3,516.8 C557.2,522.6 558.2,529.8 558.9,536.0 C559.6,542.2 559.9,548.0 560.6,554.0 C561.3,560.0 561.7,566.5 563.3,572.3 C564.9,578.1 568.5,583.2 570.2,588.9 C571.9,594.6 572.4,600.3 573.7,606.4 C575.0,612.5 576.4,620.4 578.1,625.6 C579.9,630.8 582.3,634.3 584.2,637.8 C586.1,641.3 588.0,643.3 589.4,646.5 C590.8,649.7 591.6,656.1 592.9,657.0 C594.2,657.9 595.7,654.7 597.3,651.8 C598.9,648.9 600.8,643.0 602.5,639.5 C604.2,636.0 606.3,635.2 607.8,630.8 C609.3,626.4 610.0,620.3 611.3,613.3 C612.6,606.3 614.3,594.9 615.6,588.9 C616.9,582.9 617.8,580.3 619.1,577.5 C620.4,574.7 621.9,571.8 623.5,572.3 C625.1,572.8 627.1,576.3 628.7,580.2 C630.3,584.1 631.6,591.9 633.1,595.9 C634.6,599.9 636.3,603.7 637.5,604.3 C638.7,604.9 638.9,603.1 640.1,599.4 C641.3,595.7 643.2,585.4 644.5,581.9 C645.8,578.4 646.6,577.5 647.9,578.1 C649.2,578.7 651.0,581.7 652.3,585.4 C653.6,589.1 654.5,596.2 655.8,600.2 C657.1,604.2 658.8,608.5 660.2,609.5 C661.7,610.5 663.2,606.9 664.5,606.0 C665.8,605.1 666.5,603.7 668.0,604.3 C669.5,604.9 671.5,606.5 673.3,609.5 C675.0,612.5 676.6,617.5 678.5,622.1 C680.4,626.7 683.0,635.2 684.6,636.9 C686.2,638.6 686.9,636.7 688.1,632.5 C689.3,628.3 690.3,616.7 691.6,611.6 C692.9,606.5 694.5,602.0 696.0,602.0 C697.5,602.0 699.0,606.5 700.3,611.6 C701.6,616.7 702.5,625.2 703.8,632.5 C705.1,639.8 706.8,649.8 708.2,655.2 C709.6,660.6 710.9,664.5 712.2,664.8 C713.5,665.1 714.6,659.6 716.0,657.0 C717.4,654.4 719.1,650.1 720.4,649.1 C721.6,648.1 722.2,648.5 723.5,650.8 C724.8,653.1 726.6,660.4 727.9,663.0 C729.2,665.6 730.0,666.6 731.3,666.5 C732.6,666.4 734.4,665.0 735.7,662.1 C737.0,659.2 737.9,654.2 739.2,649.1 C740.5,644.0 742.2,636.3 743.6,631.6 C745.0,626.9 746.3,625.3 747.9,621.1 C749.5,616.9 751.5,609.5 753.2,606.3 C755.0,603.1 756.8,601.9 758.4,601.9 C760.0,601.9 761.3,602.8 762.8,606.3 C764.2,609.8 765.4,618.7 767.1,622.9 C768.9,627.1 771.4,631.2 773.3,631.6 C775.2,632.0 776.8,628.9 778.5,625.5 C780.2,622.1 781.8,618.0 783.7,611.5 C785.6,605.0 788.0,592.0 789.8,586.2 C791.6,580.4 793.1,577.6 794.7,576.6 C796.3,575.6 797.5,576.8 799.4,580.1 C801.3,583.5 804.3,590.7 806.4,596.7 C808.5,602.7 810.1,609.8 811.7,615.9 C813.3,622.0 814.1,627.6 816.0,633.3 C817.9,639.0 820.7,645.4 823.0,649.9 C825.3,654.4 827.8,657.9 830.0,660.4 C832.2,662.9 834.1,663.8 836.1,664.8 C838.1,665.8 839.7,666.3 842.2,666.2 C844.7,666.1 847.8,664.7 851.0,664.4 C854.2,664.1 858.8,664.1 861.4,664.4 C864.0,664.7 864.7,665.7 866.7,666.0 C868.8,666.3 870.8,666.3 873.7,666.0 C876.6,665.7 880.6,664.9 884.1,664.2 C887.6,663.6 891.1,662.7 894.6,662.1 C898.1,661.5 902.3,661.3 905.1,660.9 C907.9,660.5 908.9,660.9 911.2,659.5 C913.5,658.1 916.5,655.5 919.1,652.5 C921.7,649.5 924.6,644.2 926.9,641.2 C929.2,638.2 930.7,636.8 933.0,634.2 C935.3,631.6 938.5,626.9 940.5,625.6 C942.5,624.3 943.3,624.8 944.8,626.4 C946.2,628.0 947.7,632.3 949.2,635.2 C950.7,638.1 952.2,642.2 953.6,643.9 C955.0,645.6 956.0,646.5 957.9,645.6 C959.8,644.7 962.6,642.6 964.9,638.7 C967.2,634.8 969.9,626.9 971.9,622.1 C973.9,617.3 975.4,612.6 977.1,609.8 C978.9,607.0 980.2,606.1 982.4,605.5 C984.6,604.9 988.0,606.7 990.2,606.0 C992.4,605.3 993.2,603.4 995.5,601.1 C997.8,598.8 1001.6,596.0 1004.2,592.4 C1006.8,588.8 1009.3,581.2 1011.2,579.8 C1013.1,578.3 1014.3,581.0 1015.6,583.7 C1016.9,586.4 1018.0,590.1 1019.1,595.9 C1020.2,601.7 1021.4,611.6 1022.5,618.6 C1023.6,625.6 1024.5,633.1 1026.0,637.8 C1027.5,642.4 1029.4,644.2 1031.3,646.5 C1033.2,648.8 1035.5,650.6 1037.4,651.8 C1039.3,653.0 1040.6,654.4 1042.6,653.5 C1044.6,652.6 1047.7,649.4 1049.6,646.5 C1051.5,643.6 1052.4,641.5 1054.0,636.0 C1055.6,630.5 1057.5,619.4 1059.2,613.3 C1061.0,607.2 1062.8,604.0 1064.5,599.4 C1066.2,594.8 1068.0,589.8 1069.7,585.4 C1071.4,581.0 1073.0,576.6 1074.9,573.2 C1076.8,569.8 1079.1,566.0 1081.0,565.0 C1082.9,564.0 1084.8,565.5 1086.3,567.1 C1087.8,568.8 1088.6,571.6 1089.8,574.9 C1091.0,578.2 1092.0,582.7 1093.3,587.1 C1094.6,591.5 1096.0,598.3 1097.6,601.1 C1099.2,603.9 1101.3,603.1 1102.9,603.7 C1104.5,604.3 1105.5,603.3 1107.2,604.6 C1108.9,605.9 1111.2,609.3 1113.3,611.6 C1115.3,613.9 1117.6,617.9 1119.5,618.6 C1121.4,619.3 1122.8,618.5 1124.9,615.9 C1127.0,613.3 1130.0,606.6 1132.3,602.9 C1134.6,599.2 1136.9,596.0 1138.8,593.7 C1140.7,591.4 1141.9,589.2 1143.4,589.0 C1145.0,588.8 1146.9,589.8 1148.1,592.7 C1149.3,595.6 1149.9,601.8 1150.8,606.6 C1151.7,611.4 1152.8,618.3 1153.6,621.5 C1154.4,624.7 1154.7,626.1 1155.5,625.8 C1156.3,625.5 1157.7,624.3 1158.6,619.6 C1159.5,614.9 1160.1,605.1 1161.0,597.4 C1161.9,589.7 1163.0,579.7 1163.8,573.2 C1164.6,566.7 1164.8,564.0 1165.7,558.4 C1166.6,552.8 1168.0,545.7 1169.4,539.8 C1170.8,533.9 1172.3,528.7 1174.0,523.1 C1175.7,517.5 1177.9,511.5 1179.6,506.4 C1181.3,501.3 1182.8,496.8 1184.3,492.5 C1185.8,488.2 1187.1,483.8 1188.9,480.4 C1190.8,477.0 1193.1,473.5 1195.4,472.1 C1197.7,470.7 1200.8,471.4 1202.8,472.1 C1204.8,472.8 1205.3,475.6 1207.5,476.3 C1209.7,477.0 1213.5,474.9 1215.8,476.3 C1218.1,477.7 1219.2,484.0 1221.4,484.7 C1223.6,485.4 1226.2,481.3 1228.8,480.4 C1231.4,479.5 1235.2,478.8 1237.2,479.1 C1239.2,479.4 1239.2,479.9 1240.9,482.3 C1242.6,484.7 1245.2,491.4 1247.4,493.4 C1249.6,495.4 1252.4,493.2 1253.9,494.3 C1255.4,495.4 1256.1,499.0 1256.6,499.9" fill="none" stroke="#ff0000" stroke-width="2" stroke-linejoin="round"/>
<g fill="#000"><rect x="110.2" y="0.6" width="1148.8" height="3.6"/><rect x="110.2" y="0.6" width="3.8" height="823.4"/><rect x="1255.4" y="0.6" width="3.6" height="814.4"/><rect x="110.2" y="804.6" width="1148.8" height="3.6"/><rect x="288.3" y="806" width="3.4" height="18.4"/><rect x="464.4" y="806" width="3.4" height="18.4"/><rect x="640.3" y="806" width="3.4" height="18.4"/><rect x="816.2" y="806" width="3.4" height="18.4"/><rect x="992.0" y="806" width="3.4" height="18.4"/><rect x="1167.8" y="806" width="3.4" height="18.4"/><rect x="200.2" y="806" width="3.4" height="9"/><rect x="376.3" y="806" width="3.4" height="9"/><rect x="552.3" y="806" width="3.4" height="9"/><rect x="728.2" y="806" width="3.4" height="9"/><rect x="904.1" y="806" width="3.4" height="9"/><rect x="1080.1" y="806" width="3.4" height="9"/></g>
<text x="112.0" y="868" font-size="43.5" text-anchor="middle" letter-spacing="1.6">2000</text><text x="290.0" y="868" font-size="43.5" text-anchor="middle" letter-spacing="1.6">1800</text><text x="466.1" y="868" font-size="43.5" text-anchor="middle" letter-spacing="1.6">1600</text><text x="642.0" y="868" font-size="43.5" text-anchor="middle" letter-spacing="1.6">1400</text><text x="817.9" y="868" font-size="43.5" text-anchor="middle" letter-spacing="1.6">1200</text><text x="993.7" y="868" font-size="43.5" text-anchor="middle" letter-spacing="1.6">1000</text><text x="1169.5" y="868" font-size="43.5" text-anchor="middle" letter-spacing="1.6">800</text>
<text x="123" y="174.7" font-size="44">(d)</text><text x="128" y="285.6" font-size="44">(c)</text><text x="123.1" y="378.4" font-size="44">(b)</text><text x="122.2" y="577.6" font-size="44">(a)</text>
<rect x="452" y="698.1" width="39" height="2"/><path d="M441.8,698 L447,697 L452,696.6 L453.5,694.9 L464.3,694.9 L464.3,704.9 L460,704.9 L459,703.8 L453,703.6 L452,701.6 L447,701.2 L441.8,700.2 Z" fill="#000"/><text x="490.6" y="700" font-size="38.4">C=C</text><text x="492.7" y="747.2" font-size="38">1635</text>
<g font-size="49"><text x="479.55" y="959.6">Wave</text><text x="606.2" y="959.6">number</text><text x="770.8" y="959.6">(cm</text><text x="848.5" y="932.5" font-size="25.5">-1</text><text x="874" y="959.6">)</text></g><text transform="translate(39,619.5) rotate(-90) scale(0.962,1)" x="-0.9" y="0" font-size="52.5">Transmittance (a.u.)</text>
</svg>
</body></html>
